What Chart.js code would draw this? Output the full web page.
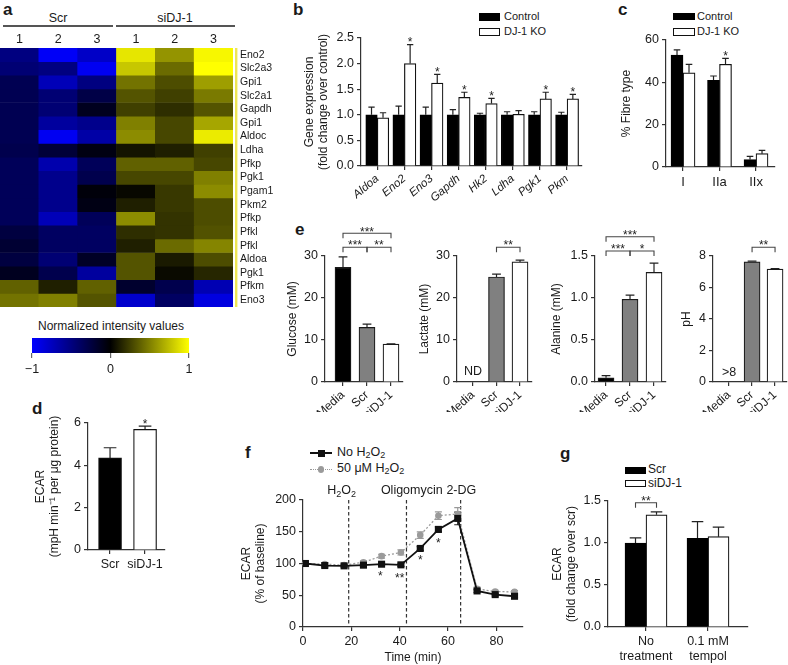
<!DOCTYPE html>
<html><head><meta charset="utf-8">
<script src="https://cdn.jsdelivr.net/npm/chart.js@4.4.1/dist/chart.umd.min.js"></script>
<style>
html,body{margin:0;padding:0;background:#fff;}
#fig{position:relative;width:788px;height:665px;overflow:hidden;background:#fff;font-family:'Liberation Sans',Arial,Helvetica,sans-serif;color:#1a1a1a;}
.t{position:absolute;white-space:nowrap;}
.sb{font-size:0.72em;position:relative;top:0.22em;}
</style></head>
<body><div id="fig"></div>
<script>
// ================= DATA =================
const heatGroups = ['Scr', 'siDJ-1'];
const heatSamples = ['1', '2', '3', '1', '2', '3'];
const heatGenes = ['Eno2','Slc2a3','Gpi1','Slc2a1','Gapdh','Gpi1','Aldoc','Ldha','Pfkp','Pgk1','Pgam1','Pkm2','Pfkp','Pfkl','Pfkl','Aldoa','Pgk1','Pfkm','Eno3'];
const heatValues = [
  [-0.50,-0.97,-0.78, 0.90, 0.58, 0.97],
  [-0.45,-0.50,-0.95, 0.78, 0.42, 1.00],
  [-0.32,-0.72,-0.50, 0.45, 0.30, 0.62],
  [-0.32,-0.45,-0.28, 0.33, 0.25, 0.48],
  [-0.32,-0.45,-0.12, 0.25, 0.18, 0.33],
  [-0.32,-0.62,-0.55, 0.50, 0.28, 0.65],
  [-0.32,-0.95,-0.65, 0.55, 0.28, 0.92],
  [-0.30,-0.22,-0.07, 0.08, 0.12, 0.25],
  [-0.35,-0.68,-0.35, 0.38, 0.38, 0.28],
  [-0.35,-0.55,-0.30, 0.28, 0.28, 0.50],
  [-0.35,-0.55,-0.04, 0.03, 0.22, 0.55],
  [-0.35,-0.55,-0.08, 0.12, 0.22, 0.30],
  [-0.35,-0.72,-0.35, 0.55, 0.20, 0.30],
  [-0.25,-0.38,-0.38, 0.18, 0.20, 0.32],
  [-0.20,-0.38,-0.38, 0.12, 0.42, 0.52],
  [-0.25,-0.45,-0.15, 0.33, 0.10, 0.30],
  [-0.12,-0.30,-0.62, 0.33, 0.04, 0.15],
  [ 0.38, 0.12, 0.38,-0.18,-0.30,-0.70],
  [ 0.45, 0.50, 0.33,-0.80,-0.38,-0.88]
];
const colorbarTicks = [-1, 0, 1];
const colorbarLabels = ['\u22121', '0', '1'];

const bGenes = ['Aldoa','Eno2','Eno3','Gapdh','Hk2','Ldha','Pgk1','Pkm'];
const bControl = [1.00, 1.00, 1.00, 1.00, 1.00, 1.00, 1.00, 1.00];
const bControlErr = [0.15, 0.17, 0.15, 0.10, 0.03, 0.06, 0.06, 0.05];
const bKO = [0.94, 2.00, 1.62, 1.34, 1.22, 1.01, 1.31, 1.31];
const bKOErr = [0.10, 0.37, 0.17, 0.10, 0.10, 0.07, 0.13, 0.09];
const bKOSig = ['', '*', '*', '*', '*', '', '*', '*'];
const bYTicks = [0, 0.5, 1.0, 1.5, 2.0, 2.5];

const cTypes = ['I', 'IIa', 'IIx'];
const cControl = [52.9, 41.0, 3.5];
const cControlErr = [2.4, 2.0, 1.5];
const cKO = [44.5, 48.5, 6.3];
const cKOErr = [4.0, 2.8, 1.6];
const cKOSig = ['', '*', ''];
const cYTicks = [0, 20, 40, 60];

const dGroups = ['Scr', 'siDJ-1'];
const dValues = [4.35, 5.70];
const dErr = [0.48, 0.15];
const dSig = ['', '*'];
const dYTicks = [0, 2, 4, 6];

const eGroups = ['Media', 'Scr', 'siDJ-1'];
const glucose = [27.3, 13.0, 9.0];
const glucoseErr = [2.5, 0.8, 0.1];
const lactate = [null, 25.0, 28.6];
const lactateErr = [null, 0.7, 0.4];
const alanine = [0.05, 0.985, 1.305];
const alanineErr = [0.025, 0.05, 0.11];
const ph = [null, 7.63, 7.17];
const phErr = [null, 0.04, 0.03];
const glucoseTicks = [0, 10, 20, 30];
const lactateTicks = [0, 10, 20, 30];
const alanineTicks = [0, 0.5, 1.0, 1.5];
const phTicks = [0, 2, 4, 6, 8];

const fTime = [1, 9, 17, 25, 32.5, 40.5, 48.5, 56, 64, 72, 79.5, 87.5];
const fNoH2O2 = [100, 96.8, 96.3, 97.4, 98.9, 97.9, 123.7, 153.7, 171, 56.8, 51, 48.4];
const fNoH2O2Err = [2, 2, 2, 2, 2, 2.5, 3, 4, 10, 2.5, 2, 2];
const fH2O2 = [100, 99, 97.4, 102, 111.6, 117.4, 144.7, 175.3, 177.9, 60, 55.8, 55.3];
const fH2O2Err = [2, 2, 2, 2, 3, 4, 5, 6, 10, 3, 2, 2];
const fEvents = [18.9, 42.8, 65.2];
const fEventLabels = ['H_2O_2', 'Oligomycin', '2-DG'];
const fEventLabelX = [16, 45, 65.5];
const fXTicks = [0, 20, 40, 60, 80];
const fYTicks = [0, 50, 100, 150, 200];

const gGroups = [['No', 'treatment'], ['0.1 mM', 'tempol']];
const gScr = [1.00, 1.055];
const gScrErr = [0.06, 0.20];
const gSi = [1.335, 1.075];
const gSiErr = [0.035, 0.115];
const gYTicks = [0, 0.5, 1.0, 1.5];

// ================= HELPERS =================
const fig = document.getElementById('fig');
const AX = '#333', TX = '#1a1a1a';
const FONT = "'Liberation Sans', Arial, Helvetica, sans-serif";
Chart.defaults.font.family = FONT;
Chart.defaults.color = TX;
Chart.defaults.animation = false;

function T(html, x, base, size, o) {
  o = o || {};
  const d = document.createElement('div');
  d.className = 't';
  d.innerHTML = html;
  d.style.fontSize = size + 'px';
  d.style.lineHeight = size + 'px';
  d.style.top = (base - 0.8465 * size) + 'px';
  d.style.left = x + 'px';
  if (o.bold) d.style.fontWeight = 'bold';
  if (o.align === 'center') d.style.transform = 'translateX(-50%)';
  fig.appendChild(d);
}
function R(x, y, w, h, style) {
  const d = document.createElement('div');
  d.style.cssText = `position:absolute;left:${x}px;top:${y}px;width:${w}px;height:${h}px;box-sizing:border-box;${style}`;
  fig.appendChild(d);
}
function cmap(v) {
  v = Math.max(-1, Math.min(1, v));
  if (v < 0) return `rgb(0,0,${Math.round(-v * 255)})`;
  const y = Math.round(v * 255);
  return `rgb(${y},${y},0)`;
}
function starAt(ctx, text, x, yc, size) {
  ctx.font = `${size}px ${FONT}`;
  ctx.textAlign = 'center';
  ctx.textBaseline = 'alphabetic';
  ctx.fillStyle = '#222';
  ctx.fillText(text, x, yc + 0.56 * size);
}
function drawRich(ctx, str, cx, base, size) {
  const parts = [];
  for (let i = 0; i < str.length; i++) {
    if (str[i] === '_' && i + 1 < str.length) { parts.push({t: str[i + 1], sub: true}); i++; }
    else { if (parts.length && !parts[parts.length - 1].sub) parts[parts.length - 1].t += str[i]; else parts.push({t: str[i], sub: false}); }
  }
  let w = 0;
  parts.forEach(p => { ctx.font = `${p.sub ? size * 0.72 : size}px ${FONT}`; p.w = ctx.measureText(p.t).width; w += p.w; });
  let x = cx - w / 2;
  ctx.textAlign = 'left'; ctx.textBaseline = 'alphabetic'; ctx.fillStyle = TX;
  parts.forEach(p => { ctx.font = `${p.sub ? size * 0.72 : size}px ${FONT}`; ctx.fillText(p.t, x, base + (p.sub ? size * 0.25 : 0)); x += p.w; });
}

const annot = {
  id: 'annot',
  beforeDatasetsDraw(chart) {
    const o = chart.options.plugins.annot || {};
    const ctx = chart.ctx, ys = chart.scales.y, xs = chart.scales.x, a = chart.chartArea;
    ctx.save();
    (o.vlines || []).forEach(v => {
      const x = xs.getPixelForValue(v);
      ctx.strokeStyle = AX; ctx.lineWidth = 1.2; ctx.setLineDash([3.5, 2.5]);
      ctx.beginPath(); ctx.moveTo(x, a.top); ctx.lineTo(x, a.bottom); ctx.stroke();
    });
    ctx.setLineDash([]);
    chart.data.datasets.forEach((ds, di) => {
      if (!ds.errors) return;
      const meta = chart.getDatasetMeta(di);
      meta.data.forEach((el, j) => {
        const p = ds.data[j], e = ds.errors[j];
        if (!p || p.y == null || !e) return;
        const x = el.x;
        const yt = ys.getPixelForValue(p.y + e);
        const yb = ds.errBoth ? ys.getPixelForValue(p.y - e) : ys.getPixelForValue(p.y);
        const cw = el.width ? el.width * 0.55 : 7;
        ctx.strokeStyle = ds.errColor || '#222'; ctx.lineWidth = 1.2;
        ctx.beginPath();
        ctx.moveTo(x, yb); ctx.lineTo(x, yt);
        ctx.moveTo(x - cw / 2, yt); ctx.lineTo(x + cw / 2, yt);
        if (ds.errBoth) { ctx.moveTo(x - cw / 2, yb); ctx.lineTo(x + cw / 2, yb); }
        ctx.stroke();
      });
    });
    ctx.restore();
  },
  afterDatasetsDraw(chart) {
    const o = chart.options.plugins.annot || {};
    const ctx = chart.ctx, ys = chart.scales.y, xs = chart.scales.x;
    ctx.save();
    chart.data.datasets.forEach((ds, di) => {
      if (!ds.sig) return;
      const meta = chart.getDatasetMeta(di);
      meta.data.forEach((el, j) => {
        if (!ds.sig[j]) return;
        const p = ds.data[j];
        const top = ys.getPixelForValue(p.y + ((ds.errors && ds.errors[j]) || 0));
        starAt(ctx, ds.sig[j], el.x, top - 5, 12);
      });
    });
    const px = (r) => Array.isArray(r) ? chart.getDatasetMeta(r[0]).data[r[1]].x : xs.getPixelForValue(r);
    (o.brackets || []).forEach(b => {
      const x1 = px(b.a), x2 = px(b.b), y = ys.getPixelForValue(b.y);
      ctx.strokeStyle = '#444'; ctx.lineWidth = 1.1;
      ctx.beginPath();
      ctx.moveTo(x1, y + 5); ctx.lineTo(x1, y); ctx.lineTo(x2, y); ctx.lineTo(x2, y + 5);
      ctx.stroke();
      starAt(ctx, b.label, (x1 + x2) / 2, y - 4.5, 12);
    });
    (o.notes || []).forEach(n => {
      ctx.font = `12.5px ${FONT}`; ctx.fillStyle = TX; ctx.textAlign = 'center'; ctx.textBaseline = 'middle';
      ctx.fillText(n.text, xs.getPixelForValue(n.x), ys.getPixelForValue(n.y));
    });
    (o.rich || []).forEach(r => drawRich(ctx, r.text, xs.getPixelForValue(r.x), ys.getPixelForValue(r.y), 12.5));
    (o.stars || []).forEach(s => starAt(ctx, s.text, xs.getPixelForValue(s.x), ys.getPixelForValue(s.y), 12));
    ctx.restore();
  }
};

function makeChart(g, config) {
  const pl = g.pl || 0, ta = g.ta || 0, ra = g.ra || 0;
  const left = g.l - g.aw - pl, top = g.t - g.pt - ta;
  const w = (g.r - g.l) + g.aw + pl + ra + g.pr;
  const h = (g.b - g.t) + g.pt + ta + g.ah;
  const c = document.createElement('canvas');
  c.width = w; c.height = h;
  c.style.cssText = `position:absolute;left:${left}px;top:${top}px;width:${w}px;height:${h}px`;
  fig.appendChild(c);
  const op = config.options = config.options || {};
  op.responsive = false; op.animation = false; op.devicePixelRatio = 1; op.events = [];
  op.layout = {padding: {top: g.pt, right: g.pr, left: pl, bottom: 0}};
  op.plugins = Object.assign({legend: {display: false}, tooltip: {enabled: false}}, op.plugins || {});
  return new Chart(c.getContext('2d'), config);
}

function yAxis(ticks, aw, title, dec, extra) {
  return Object.assign({
    type: 'linear', min: ticks[0], max: ticks[ticks.length - 1],
    afterBuildTicks: s => { s.ticks = ticks.map(v => ({value: v})); },
    afterFit: s => { s.width = aw; s.paddingTop = 0; s.paddingBottom = 0; },
    grid: {display: true, drawOnChartArea: false, drawTicks: true, tickLength: 4, color: AX, lineWidth: 1.2},
    border: {display: true, color: AX, width: 1.2},
    ticks: {font: {size: 12.5, lineHeight: 1.2}, color: TX, padding: 3, autoSkip: false,
      callback: v => dec ? Number(v).toFixed(dec) : String(v)},
    title: {display: !!title, text: title, font: {size: 12, lineHeight: 1.15}, color: TX, padding: 0}
  }, extra || {});
}
function xAxis(labels, min, max, ah, tickOpts) {
  return {
    type: 'linear', min: min, max: max, offset: false,
    afterBuildTicks: s => { s.ticks = labels.map((_, i) => ({value: i})); },
    afterFit: s => { s.height = ah; s.paddingLeft = 0; s.paddingRight = 0; },
    grid: {display: true, drawOnChartArea: false, drawTicks: true, tickLength: 4, color: AX, lineWidth: 1.2, offset: false},
    border: {display: true, color: AX, width: 1.2},
    ticks: Object.assign({font: {size: 12.5, lineHeight: 1.2}, color: TX, padding: 3, autoSkip: false,
      minRotation: 0, maxRotation: 0, callback: (v, i) => labels[i]}, tickOpts || {})
  };
}
const pts = (vals, xs) => vals.map((v, i) => ({x: xs ? xs[i] : i, y: v}));

// ================= PANEL a : heatmap =================
T('a', 3, 15, 17, {bold: true});
T(heatGroups[0], 58, 22.5, 12.5, {align: 'center'});
T(heatGroups[1], 175, 22.5, 12.5, {align: 'center'});
R(3, 24.5, 110, 2, 'background:#555');
R(116, 24.5, 119, 2, 'background:#555');

makeChart({l: 0, t: 48, r: 233, b: 307, aw: 0, pt: 0, ta: 20, ra: 40, ah: 0, pr: 0}, {
  type: 'bar',
  data: {
    labels: heatSamples,
    datasets: heatGenes.map((gname, r) => ({
      label: gname, data: heatSamples.map(() => 1),
      backgroundColor: heatValues[r].map(cmap), borderWidth: 0,
      barPercentage: 1, categoryPercentage: 1, stack: 'h'
    }))
  },
  options: {
    scales: {
      x: {type: 'category', position: 'top', stacked: true, offset: true,
        afterFit: s => { s.height = 20; s.paddingLeft = 0; s.paddingRight = 0; },
        grid: {display: false, drawTicks: false}, border: {display: false},
        ticks: {font: {size: 12.5, lineHeight: 1.2}, color: TX, padding: 1, autoSkip: false, maxRotation: 0}},
      y: {type: 'linear', position: 'right', stacked: true, min: 0, max: heatGenes.length, reverse: true,
        afterBuildTicks: s => { s.ticks = heatGenes.map((_, i) => ({value: i + 0.5})); },
        afterFit: s => { s.width = 40; s.paddingTop = 0; s.paddingBottom = 0; },
        grid: {display: false, drawTicks: false}, border: {display: false},
        ticks: {font: {size: 10.5}, color: TX, padding: 7, autoSkip: false, callback: (v, i) => heatGenes[i]}}
    }
  },
  plugins: [{id: 'clusterBar', afterDraw(chart) {
    const a = chart.chartArea, ctx = chart.ctx;
    ctx.save(); ctx.fillStyle = '#eee655'; ctx.fillRect(a.right + 2, a.top, 2.4, a.bottom - a.top); ctx.restore();
  }}]
});

// colour bar
T('Normalized intensity values', 111, 330, 12, {align: 'center'});
makeChart({l: 32, t: 338, r: 189, b: 353, aw: 0, pl: 12, pt: 8, ah: 27, pr: 21}, {
  type: 'bar',
  data: {labels: [''], datasets: [{
    data: [[colorbarTicks[0], colorbarTicks[colorbarTicks.length - 1]]],
    backgroundColor: (c) => {
      const a = c.chart.chartArea; if (!a) return '#000';
      const gr = c.chart.ctx.createLinearGradient(a.left, 0, a.right, 0);
      gr.addColorStop(0, cmap(-1)); gr.addColorStop(0.5, cmap(0)); gr.addColorStop(1, cmap(1));
      return gr;
    },
    borderWidth: 0, barPercentage: 1, categoryPercentage: 1
  }]},
  options: {
    indexAxis: 'y',
    scales: {
      y: {type: 'category', display: false},
      x: {type: 'linear', min: colorbarTicks[0], max: colorbarTicks[colorbarTicks.length - 1],
        afterBuildTicks: s => { s.ticks = colorbarTicks.map(v => ({value: v})); },
        afterFit: s => { s.height = 27; s.paddingLeft = 0; s.paddingRight = 0; },
        grid: {display: true, drawOnChartArea: false, drawTicks: true, tickLength: 5, color: '#666', lineWidth: 1.2},
        border: {display: false},
        ticks: {font: {size: 12.5}, color: TX, padding: 4, autoSkip: false, maxRotation: 0, callback: (v, i) => colorbarLabels[i]}}
    }
  }
});

// ================= PANEL b =================
T('b', 293, 15, 17, {bold: true});
R(479, 13, 21, 7.5, 'background:#000');
R(479, 28, 21, 7.5, 'background:#fff;border:1.2px solid #111');
T('Control', 504, 20.5, 11);
T('DJ-1 KO', 504, 35.5, 11);
makeChart({l: 361, t: 38, r: 582, b: 166, aw: 58, pt: 10, ah: 36, pr: 6}, {
  type: 'bar',
  data: {datasets: [
    {data: pts(bControl), errors: bControlErr, backgroundColor: '#000', borderColor: '#000', borderWidth: 1.2, barThickness: 11.5},
    {data: pts(bKO), errors: bKOErr, sig: bKOSig, backgroundColor: '#fff', borderColor: '#111', borderWidth: 1.2, barThickness: 11.5}
  ]},
  options: {
    scales: {
      x: xAxis(bGenes, -0.6, 7.55, 36, {minRotation: 40, maxRotation: 40, font: {size: 11.5, style: 'italic'}, padding: 2}),
      y: yAxis(bYTicks, 58, ['Gene expression', '(fold change over control)'], 1)
    },
    plugins: {annot: {}}
  },
  plugins: [annot]
});

// ================= PANEL c =================
T('c', 618, 15, 17, {bold: true});
R(673, 13, 22, 7, 'background:#000');
R(673, 28, 22, 7.5, 'background:#fff;border:1.2px solid #111');
T('Control', 697, 20, 11);
T('DJ-1 KO', 697, 35.5, 11);
makeChart({l: 666, t: 40, r: 775, b: 167, aw: 46, pt: 12, ah: 30, pr: 8}, {
  type: 'bar',
  data: {datasets: [
    {data: pts(cControl), errors: cControlErr, backgroundColor: '#000', borderColor: '#000', borderWidth: 1.2, barThickness: 12},
    {data: pts(cKO), errors: cKOErr, sig: cKOSig, backgroundColor: '#fff', borderColor: '#111', borderWidth: 1.2, barThickness: 12}
  ]},
  options: {
    scales: {
      x: xAxis(cTypes, -0.466, 2.52, 30, {padding: 4, font: {size: 13, lineHeight: 1.2}}),
      y: yAxis(cYTicks, 46, '% Fibre type', 0)
    },
    plugins: {annot: {}}
  },
  plugins: [annot]
});

// ================= PANEL d =================
T('d', 32, 414, 17, {bold: true});
makeChart({l: 88, t: 423, r: 165, b: 550, aw: 54, pt: 12, ah: 25, pr: 8}, {
  type: 'bar',
  data: {datasets: [
    {data: pts(dValues), errors: dErr, sig: dSig, backgroundColor: ['#000', '#fff'], borderColor: '#111', borderWidth: 1.2, barThickness: 23}
  ]},
  options: {
    scales: {
      x: xAxis(dGroups, -0.63, 1.57, 25, {padding: 3}),
      y: yAxis(dYTicks, 54, ['ECAR', '(mpH min\u207B\u00B9 per \u03BCg protein)'], 0)
    },
    plugins: {annot: {}}
  },
  plugins: [annot]
});

// ================= PANEL e =================
T('e', 295, 235, 17, {bold: true});
const eColors = ['#000', '#808080', '#fff'];
function ePanel(geo, vals, errs, ticks, title, dec, xmin, xmax, extra) {
  const data = [], bg = [], er = [];
  vals.forEach((v, i) => { if (v == null) return; data.push({x: i, y: v}); bg.push(eColors[i]); er.push(errs[i]); });
  makeChart(geo, {
    type: 'bar',
    data: {datasets: [{data: data, errors: er, backgroundColor: bg, borderColor: '#1a1a1a', borderWidth: 1.2, barThickness: 16}]},
    options: {
      scales: {
        x: xAxis(eGroups, xmin, xmax, geo.ah, {minRotation: 42, maxRotation: 42, font: {size: 12}, padding: 2}),
        y: yAxis(ticks, geo.aw, title, dec)
      },
      plugins: {annot: extra}
    },
    plugins: [annot]
  });
}
ePanel({l: 325, t: 256, r: 403, b: 382, aw: 39, pt: 36, ah: 30, pr: 4}, glucose, glucoseErr, glucoseTicks, 'Glucose (mM)', 0, -0.75, 2.5,
  {brackets: [{a: 0, b: 2, y: 35.4, label: '***'}, {a: 0, b: 1, y: 32.1, label: '***'}, {a: 1, b: 2, y: 32.1, label: '**'}]});
ePanel({l: 457, t: 256, r: 532, b: 382, aw: 39, pt: 36, ah: 30, pr: 4}, lactate, lactateErr, lactateTicks, 'Lactate (mM)', 0, -0.68, 2.51,
  {brackets: [{a: 1, b: 2, y: 32.1, label: '**'}], notes: [{x: 0, y: 2.4, text: 'ND'}]});
ePanel({l: 595, t: 256, r: 666, b: 382, aw: 45, pt: 36, ah: 30, pr: 4}, alanine, alanineErr, alanineTicks, 'Alanine (mM)', 1, -0.46, 2.5,
  {brackets: [{a: 0, b: 2, y: 1.73, label: '***'}, {a: 0, b: 1, y: 1.56, label: '***'}, {a: 1, b: 2, y: 1.56, label: '*'}]});
ePanel({l: 713, t: 256, r: 787, b: 382, aw: 33, pt: 36, ah: 30, pr: 1}, ph, phErr, phTicks, 'pH', 0, -0.7, 2.52,
  {brackets: [{a: 1, b: 2, y: 8.56, label: '**'}], notes: [{x: 0, y: 0.6, text: '>8'}]});

// ================= PANEL f =================
T('f', 245, 458, 17, {bold: true});
R(310, 452.3, 22, 2, 'background:#111');
R(317.5, 449.8, 7, 7, 'background:#111');
R(310, 468.5, 22, 2, 'border-top:1.6px dotted #999');
R(317.7, 466, 6.6, 6.6, 'background:#9a9a9a;border-radius:50%');
T('No H<span class="sb">2</span>O<span class="sb">2</span>', 337, 457, 12.5);
T('50 \u03BCM H<span class="sb">2</span>O<span class="sb">2</span>', 337, 473, 12.5);
makeChart({l: 303, t: 500, r: 523, b: 627, aw: 63, pt: 60, ah: 38, pr: 8}, {
  type: 'line',
  data: {datasets: [
    {data: pts(fNoH2O2, fTime), errors: fNoH2O2Err, errBoth: true, errColor: '#222',
      borderColor: '#111', backgroundColor: '#111', borderWidth: 1.8, pointStyle: 'rect', pointRadius: 5, pointBorderWidth: 0, tension: 0},
    {data: pts(fH2O2, fTime), errors: fH2O2Err, errBoth: true, errColor: '#999',
      borderColor: '#9a9a9a', backgroundColor: '#9a9a9a', borderWidth: 1.3, borderDash: [2, 2], pointStyle: 'circle', pointRadius: 3.3, pointBorderWidth: 0, tension: 0}
  ]},
  options: {
    scales: {
      x: {type: 'linear', min: 0, max: 91, offset: false,
        afterBuildTicks: s => { s.ticks = fXTicks.map(v => ({value: v})); },
        afterFit: s => { s.height = 38; s.paddingLeft = 0; s.paddingRight = 0; },
        grid: {display: true, drawOnChartArea: false, drawTicks: true, tickLength: 4, color: AX, lineWidth: 1.2},
        border: {display: true, color: AX, width: 1.2},
        ticks: {font: {size: 12.5, lineHeight: 1.2}, color: TX, padding: 3, autoSkip: false, maxRotation: 0},
        title: {display: true, text: 'Time (min)', font: {size: 12, lineHeight: 1.15}, color: TX, padding: 0}},
      y: yAxis(fYTicks, 63, ['ECAR', '(% of baseline)'], 0)
    },
    plugins: {annot: {
      vlines: fEvents,
      rich: fEventLabels.map((t, i) => ({text: t, x: fEventLabelX[i], y: 209.5})),
      stars: [{x: 32, y: 84.5, text: '*'}, {x: 40, y: 82, text: '**'}, {x: 48.5, y: 109.5, text: '*'}, {x: 56, y: 136, text: '*'}]
    }}
  },
  plugins: [annot]
});

// ================= PANEL g =================
T('g', 560, 459, 17, {bold: true});
R(625, 466.5, 20.5, 7, 'background:#000');
R(625, 480, 20.5, 7, 'background:#fff;border:1.2px solid #111');
T('Scr', 648, 473, 12);
T('siDJ-1', 648, 487, 12);
makeChart({l: 608, t: 501, r: 748, b: 627, aw: 57, pt: 14, ah: 38, pr: 8}, {
  type: 'bar',
  data: {datasets: [
    {data: pts(gScr), errors: gScrErr, backgroundColor: '#000', borderColor: '#000', borderWidth: 1.2, barThickness: 21},
    {data: pts(gSi), errors: gSiErr, backgroundColor: '#fff', borderColor: '#111', borderWidth: 1.2, barThickness: 21}
  ]},
  options: {
    scales: {
      x: xAxis(gGroups, -0.613, 1.645, 38, {padding: 3}),
      y: yAxis(gYTicks, 57, ['ECAR', '(fold change over scr)'], 1)
    },
    plugins: {annot: {brackets: [{a: [0, 0], b: [1, 0], y: 1.48, label: '**'}]}}
  },
  plugins: [annot]
});
</script>
</body></html>
